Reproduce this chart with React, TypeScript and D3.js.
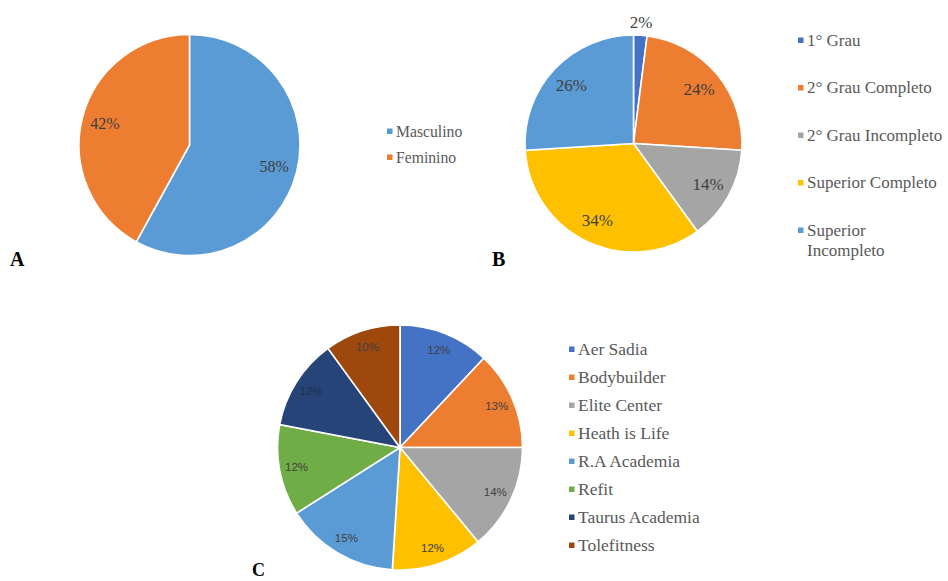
import React from 'react';
import * as d3 from 'd3';

const genderLabels = ['Masculino', 'Feminino'];
const genderValues = [58, 42];
const genderColors = ['#5B9BD5', '#ED7D31'];

const eduLabels = ['1° Grau', '2° Grau Completo', '2° Grau Incompleto', 'Superior Completo', 'Superior Incompleto'];
const eduValues = [2, 24, 14, 34, 26];
const eduColors = ['#4472C4', '#ED7D31', '#A5A5A5', '#FFC000', '#5B9BD5'];

const gymLabels = ['Aer Sadia', 'Bodybuilder', 'Elite Center', 'Heath is Life', 'R.A Academia', 'Refit', 'Taurus Academia', 'Tolefitness'];
const gymValues = [12, 13, 14, 12, 15, 12, 12, 10];
const gymColors = ['#4472C4', '#ED7D31', '#A5A5A5', '#FFC000', '#5B9BD5', '#70AD47', '#264478', '#9E480E'];

const SERIF = 'Liberation Serif, DejaVu Serif, serif';
const SANS = 'Liberation Sans, Arial, sans-serif';

type PieProps = {
  cx: number; cy: number; r: number;
  values: number[]; colors: string[];
  inFactor: number; outFactor: number;
  fontFamily: string; fontSize: number;
  labelColors?: string[];
};

function Pie({ cx, cy, r, values, colors, inFactor, outFactor, fontFamily, fontSize, labelColors }: PieProps) {
  const pie = d3.pie<number>().sort(null).value(d => d);
  const arcs = pie(values);
  const arc = d3.arc<d3.PieArcDatum<number>>().innerRadius(0).outerRadius(r);
  return (
    <g transform={`translate(${cx},${cy})`}>
      {arcs.map((a, i) => (
        <path key={'s' + i} d={arc(a) || ''} fill={colors[i]} stroke="#ffffff" strokeWidth={1.6} />
      ))}
      {arcs.map((a, i) => {
        const mid = (a.startAngle + a.endAngle) / 2;
        const lr = r * (a.data < 5 ? outFactor : inFactor);
        const x = lr * Math.sin(mid);
        const y = -lr * Math.cos(mid);
        return (
          <text key={'t' + i} x={x} y={y} textAnchor="middle" dominantBaseline="central"
            style={{ fontFamily, fontSize: fontSize + 'px' }} fill={labelColors ? labelColors[i] : '#404040'}>
            {a.data}%
          </text>
        );
      })}
    </g>
  );
}

type LegendProps = {
  x: number; ys: number[]; labels: string[][]; colors: string[]; fontSize: number; lineGap: number;
};

function Legend({ x, ys, labels, colors, fontSize, lineGap }: LegendProps) {
  return (
    <g>
      {labels.map((lines, i) => (
        <g key={i}>
          <rect x={x} y={ys[i] - 2.5} width={5.5} height={5.5} fill={colors[i]} />
          {lines.map((ln, j) => (
            <text key={j} x={x + 9} y={ys[i] + j * lineGap} dominantBaseline="central"
              style={{ fontFamily: SERIF, fontSize: fontSize + 'px' }} fill="#595959">{ln}</text>
          ))}
        </g>
      ))}
    </g>
  );
}

export default function App() {
  const eduLegendLabels = [['1° Grau'], ['2° Grau Completo'], ['2° Grau Incompleto'], ['Superior Completo'], ['Superior', 'Incompleto']];
  const gymLabelColors = gymColors.map((c, i) => (i === 6 ? '#1f2f52' : '#404040'));
  const letterStyle = { fontFamily: SERIF, fontWeight: 'bold' as const, fontSize: '20px' };
  return (
    <svg width={948} height={581} style={{ position: 'absolute', left: 0, top: 0, background: '#ffffff' }}>
      <rect x={0} y={0} width={948} height={581} fill="#ffffff" />
      <Pie cx={189.5} cy={145} r={110.5} values={genderValues} colors={genderColors}
        inFactor={0.79} outFactor={1.12} fontFamily={SERIF} fontSize={16} />
      <Legend x={387} ys={[131, 157]} labels={genderLabels.map(l => [l])} colors={genderColors} fontSize={15.7} lineGap={20} />
      <text x={10} y={266} style={letterStyle} fill="#000">A</text>

      <Pie cx={633.5} cy={143.5} r={108.5} values={eduValues} colors={eduColors}
        inFactor={0.785} outFactor={1.12} fontFamily={SERIF} fontSize={17} />
      <Legend x={798} ys={[40, 87.5, 135, 182.5, 230]} labels={eduLegendLabels} colors={eduColors} fontSize={17} lineGap={20} />
      <text x={492} y={266} style={letterStyle} fill="#000">B</text>

      <Pie cx={400} cy={447.5} r={122.5} values={gymValues} colors={gymColors}
        inFactor={0.86} outFactor={1.12} fontFamily={SANS} fontSize={11.5} labelColors={gymLabelColors} />
      <Legend x={569} ys={[349, 377, 405, 433, 461, 489, 517, 545]} labels={gymLabels.map(l => [l])} colors={gymColors} fontSize={17.5} lineGap={20} />
      <text x={252} y={576} style={{ ...letterStyle, fontSize: '18px' }} fill="#000">C</text>
    </svg>
  );
}
